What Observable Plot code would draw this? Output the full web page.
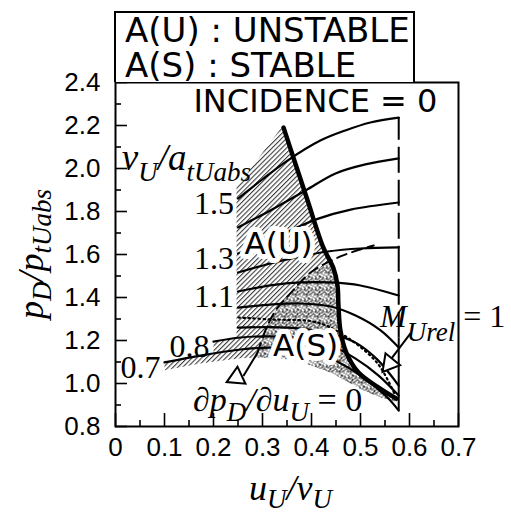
<!DOCTYPE html>
<html>
<head>
<meta charset="utf-8">
<script src="https://cdn.jsdelivr.net/npm/d3@7"></script>
<script src="https://cdn.jsdelivr.net/npm/@observablehq/plot@0.6"></script>
<style>
  body { margin: 0; background: #fff; }
  #wrap { position: relative; width: 511px; height: 515px; }
  #key {
    position: absolute; left: 114px; top: 11px; width: 301px; height: 71px;
    box-sizing: border-box; border: 2px solid #000; border-bottom: none;
    padding: 0 0 0 9px; background: #fff;
    font-family: "DejaVu Sans", "Liberation Sans", sans-serif; font-size: 34px; line-height: 35px;
    color: #000; white-space: pre;
  }
</style>
</head>
<body>
<div id="wrap"></div>
<script>
// Axis ticks
const xMajor = [0, 0.1, 0.2, 0.3, 0.4, 0.5, 0.6, 0.7];
const xMinor = [0.05, 0.15, 0.25, 0.35, 0.45, 0.55, 0.65];
const yMajor = [0.8, 1.0, 1.2, 1.4, 1.6, 1.8, 2.0, 2.2, 2.4];
const yMinor = [0.9, 1.1, 1.3, 1.5, 1.7, 1.9, 2.1, 2.3];

// Pressure ratio p_D/p_tUabs against u_U/v_U, one line per v_U/a_tUabs
const speed07 = [[0.10,1.098],[0.173,1.13],[0.255,1.158],[0.316,1.167],[0.378,1.153],[0.439,1.116],[0.50,1.037],[0.551,0.944],[0.578,0.874]];
const speed08 = [[0.20,1.195],[0.255,1.214],[0.316,1.219],[0.378,1.209],[0.439,1.177],[0.49,1.116],[0.537,1.037],[0.578,0.944]];
const speed09 = [[0.25,1.26],[0.316,1.262],[0.378,1.255],[0.439,1.232],[0.49,1.19],[0.535,1.11],[0.578,0.99]];
const speed10 = [[0.25,1.353],[0.316,1.367],[0.378,1.372],[0.439,1.358],[0.49,1.316],[0.541,1.247],[0.578,1.167]];
const speed11 = [[0.25,1.428],[0.316,1.456],[0.378,1.47],[0.439,1.47],[0.50,1.456],[0.578,1.409]];
const speed12 = [[0.25,1.516],[0.316,1.558],[0.378,1.591],[0.433,1.614],[0.50,1.628],[0.578,1.633]];
const speed13 = [[0.25,1.605],[0.306,1.656],[0.357,1.712],[0.414,1.767],[0.48,1.809],[0.578,1.842]];
const speed14 = [[0.25,1.726],[0.316,1.805],[0.388,1.898],[0.449,1.977],[0.51,2.019],[0.578,2.047]];
const speed15 = [[0.25,1.86],[0.30,1.95],[0.351,2.037],[0.418,2.13],[0.469,2.177],[0.52,2.214],[0.578,2.237]];
const speedNames = ["0.7","0.8","0.9","1.0","1.1","1.2","1.3","1.4","1.5"];
const labelledSpeeds = ["1.5","1.3","1.1","0.8","0.7"];

// Stability boundary (thick), dp_D/du_U = 0 locus (dashed), M_Urel = 1 locus (dotted)
const boundary = [[0.343,2.19],[0.365,2.037],[0.392,1.851],[0.424,1.633],[0.445,1.535],[0.453,1.456],[0.455,1.363],[0.459,1.247],[0.471,1.144],[0.496,1.051],[0.537,0.981],[0.573,0.93]];
const zeroSlope = [[0.29,1.144],[0.306,1.247],[0.327,1.34],[0.357,1.419],[0.398,1.516],[0.459,1.591],[0.527,1.642]];
const sonic = [[0.251,1.307],[0.316,1.298],[0.412,1.284],[0.473,1.214],[0.535,1.093],[0.571,0.944]];

// Limit line u_U/v_U at the right end of the speed lines
const edgeU = 0.578;
const edgeDashed = [1.21, 2.237];
const edgeSolid = [0.874, 1.21];

// Shaded zones: A(U) unstable (hatched), A(S) stable (stippled)
const unstableZone = [[0.247,1.912],[0.337,2.186],[0.343,2.19],[0.365,2.037],[0.392,1.851],[0.424,1.633],[0.438,1.56],[0.398,1.516],[0.357,1.419],[0.327,1.34],[0.306,1.247],[0.29,1.144],[0.29,1.12],[0.255,1.118],[0.173,1.093],[0.10,1.062],[0.10,1.098],[0.173,1.13],[0.20,1.14],[0.20,1.195],[0.247,1.212],[0.247,1.912]];
const stableZone = [[0.438,1.56],[0.398,1.516],[0.357,1.419],[0.327,1.34],[0.306,1.247],[0.29,1.144],[0.29,1.12],[0.33,1.12],[0.38,1.10],[0.44,1.05],[0.50,0.975],[0.54,0.935],[0.573,0.915],[0.573,0.93],[0.537,0.981],[0.496,1.051],[0.471,1.144],[0.459,1.247],[0.455,1.363],[0.453,1.456],[0.445,1.535],[0.438,1.56]];

// Callout arrows: shaft from (u1,p1) to (u2,p2), open triangle head at (hu,hp)
const callouts = [
  {u1: 0.602, p1: 1.233, u2: 0.563, p2: 1.116, hu: 0.559, hp: 1.093, angle: 219},
  {u1: 0.290, p1: 1.144, u2: 0.261, p2: 1.035, hu: 0.247, hp: 1.028, angle: 245}
];

// Text placed in data space
const zoneTags = [{u: 0.333, p: 1.647, t: "A(U)"}, {u: 0.388, p: 1.172, t: "A(S)"}];
const titleTag = [{u: 0.159, p: 2.312, t: "INCIDENCE = 0"}];
const speedTitleAt = {u: 0.014, p: 1.991};
const slopeTagAt = {u: 0.159, p: 0.870};
const sonicTagAt = {u: 0.541, p: 1.260};

const series = {"0.7": speed07, "0.8": speed08, "0.9": speed09, "1.0": speed10, "1.1": speed11,
                "1.2": speed12, "1.3": speed13, "1.4": speed14, "1.5": speed15};
const pts = a => a.map(([u, p]) => ({u, p}));
const rows = speedNames.flatMap(name => series[name].map(([u, p]) => ({name, u, p})));
const speedTags = labelledSpeeds.map(name => ({name, u: series[name][0][0], p: series[name][0][1]}));

const serif = '"Liberation Serif", "Times New Roman", "DejaVu Serif", serif';
const sans = '"DejaVu Sans", "Liberation Sans", sans-serif';

const plot = Plot.plot({
  width: 511, height: 515,
  marginLeft: 115, marginRight: 53, marginTop: 82, marginBottom: 89,
  x: {domain: [0, 0.7]},
  y: {domain: [0.8, 2.4]},
  style: {fontFamily: '"Liberation Sans", Arial, sans-serif', background: "white", overflow: "visible", color: "black"},
  marks: [
    Plot.line(pts(unstableZone), {x: "u", y: "p", fill: "url(#hatch)", stroke: "none"}),
    Plot.line(pts(stableZone), {x: "u", y: "p", fill: "url(#stipple)", stroke: "none"}),
    Plot.line(rows, {x: "u", y: "p", z: "name", curve: "catmull-rom", stroke: "black", strokeWidth: 2.2}),
    Plot.line(pts(sonic), {x: "u", y: "p", curve: "catmull-rom", stroke: "black", strokeWidth: 2.2, strokeDasharray: "1.5,3.5", strokeLinecap: "round"}),
    Plot.line(pts(zeroSlope), {x: "u", y: "p", curve: "catmull-rom", stroke: "black", strokeWidth: 2, strokeDasharray: "10,6"}),
    Plot.line(pts(boundary), {x: "u", y: "p", curve: "catmull-rom", stroke: "black", strokeWidth: 4.5}),
    Plot.ruleX([{u: edgeU, lo: edgeDashed[0], hi: edgeDashed[1]}], {x: "u", y1: "lo", y2: "hi", stroke: "black", strokeWidth: 2, strokeDasharray: "26,7"}),
    Plot.ruleX([{u: edgeU, lo: edgeSolid[0], hi: edgeSolid[1]}], {x: "u", y1: "lo", y2: "hi", stroke: "black", strokeWidth: 2}),
    Plot.link(callouts, {x1: "u1", y1: "p1", x2: "u2", y2: "p2", stroke: "black", strokeWidth: 2}),
    Plot.dot(callouts, {x: "hu", y: "hp", symbol: "triangle", r: 7, fill: "white", stroke: "black", strokeWidth: 2, rotate: "angle"}),
    Plot.text(speedTags, {x: "u", y: "p", text: "name", textAnchor: "end", dx: -4, dy: 5, fontFamily: serif, fontSize: 32, fill: "black"}),
    Plot.text(zoneTags, {x: "u", y: "p", text: "t", fontFamily: sans, fontSize: 31, fill: "black", stroke: "white", strokeWidth: 10, strokeLinejoin: "round"}),
    Plot.text(titleTag, {x: "u", y: "p", text: "t", textAnchor: "start", fontFamily: sans, fontSize: 32, fill: "black"}),
    Plot.frame({stroke: "black", strokeWidth: 2}),
    Plot.axisY(yMajor, {anchor: "left", tickSize: 12, dx: 12, strokeWidth: 1.6, tickFormat: () => "", label: null}),
    Plot.axisY(yMinor, {anchor: "left", tickSize: 6, dx: 6, strokeWidth: 1.6, tickFormat: () => "", label: null}),
    Plot.axisY(yMajor, {anchor: "left", tickSize: 0, tickPadding: 15, fontSize: 26, tickFormat: d => d.toFixed(1), label: null}),
    Plot.axisX(xMajor, {anchor: "bottom", tickSize: 13, dy: -13, strokeWidth: 1.6, tickFormat: () => "", label: null}),
    Plot.axisX(xMinor, {anchor: "bottom", tickSize: 6, dy: -6, strokeWidth: 1.6, tickFormat: () => "", label: null}),
    Plot.axisX(xMajor, {anchor: "bottom", tickSize: 0, tickPadding: 11, fontSize: 26, tickFormat: d => d === 0 ? "0" : d.toFixed(1), label: null})
  ]
});

// Fill patterns for the two zones
const svg = d3.select(plot);
const defs = svg.insert("defs", ":first-child");
const hatch = defs.append("pattern").attr("id", "hatch").attr("patternUnits", "userSpaceOnUse")
  .attr("width", 3.4).attr("height", 10).attr("patternTransform", "rotate(45)");
hatch.append("line").attr("x1", 0.6).attr("y1", 0).attr("x2", 0.6).attr("y2", 10)
  .attr("stroke", "#111").attr("stroke-width", 0.9);
const stipple = defs.append("pattern").attr("id", "stipple").attr("patternUnits", "userSpaceOnUse")
  .attr("width", 11).attr("height", 11);
for (let k = 0; k < 40; k++) {
  stipple.append("rect")
    .attr("x", (k * 7 + (k * k) % 5) % 11).attr("y", (k * 4 + 3 * (k % 3) + Math.floor(k / 11)) % 11)
    .attr("width", 1.1).attr("height", 1.1).attr("fill", "#111");
}

// Math-style labels with subscripts
const X = plot.scale("x"), Y = plot.scale("y");
function mathText({x, y, parts, size, sub, shift, anchor = "start", rotate = 0}) {
  const t = svg.append("text")
    .attr("transform", `translate(${x},${y}) rotate(${rotate})`)
    .attr("text-anchor", anchor).attr("font-family", serif).attr("font-style", "italic")
    .attr("font-size", size).attr("fill", "black");
  let low = false;
  for (const [s, isSub, upright] of parts) {
    const ts = t.append("tspan").text(s);
    if (isSub && !low) { ts.attr("dy", shift); low = true; }
    else if (!isSub && low) { ts.attr("dy", -shift); low = false; }
    if (isSub) ts.attr("font-size", sub);
    if (upright) ts.attr("font-style", "normal");
  }
}
const frameLeft = X.apply(0), frameRight = X.apply(0.7);
const frameTop = Y.apply(2.4), frameBottom = Y.apply(0.8);

mathText({x: frameLeft - 72, y: (frameTop + frameBottom) / 2, rotate: -90, anchor: "middle",
  size: 36, sub: 27, shift: 8, parts: [["p"], ["D", 1], ["/p"], ["tUabs", 1]]});
mathText({x: (frameLeft + frameRight) / 2 + 4, y: frameBottom + 74, anchor: "middle",
  size: 36, sub: 27, shift: 8, parts: [["u"], ["U", 1], ["/v"], ["U", 1]]});
mathText({x: X.apply(speedTitleAt.u), y: Y.apply(speedTitleAt.p),
  size: 37, sub: 27, shift: 11, parts: [["v"], ["U", 1], ["/a"], ["tUabs", 1]]});
mathText({x: X.apply(slopeTagAt.u), y: Y.apply(slopeTagAt.p),
  size: 34, sub: 27, shift: 10, parts: [["\u2202p"], ["D", 1], ["/\u2202u"], ["U", 1], [" = 0", 0, 1]]});
mathText({x: X.apply(sonicTagAt.u), y: Y.apply(sonicTagAt.p),
  size: 32, sub: 27, shift: 14, parts: [["M"], ["Urel", 1], [" = 1", 0, 1]]});

const wrap = document.getElementById("wrap");
wrap.appendChild(plot);
const key = document.createElement("div");
key.id = "key";
key.textContent = "A(U) : UNSTABLE\nA(S) : STABLE";
wrap.appendChild(key);
</script>
</body>
</html>
